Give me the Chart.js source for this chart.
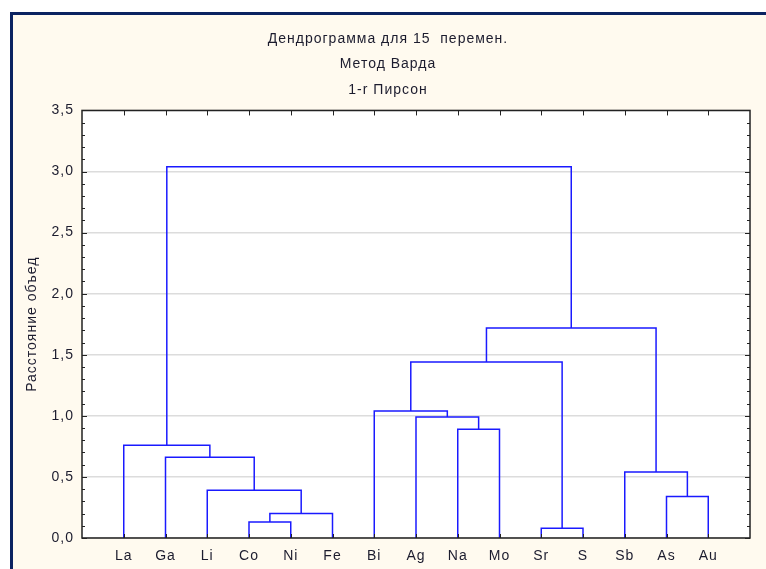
<!DOCTYPE html>
<html>
<head>
<meta charset="utf-8">
<script src="https://cdn.jsdelivr.net/npm/chart.js@4"></script>
<style>
    html, body { margin: 0; padding: 0; background: #ffffff; }
    .frame {
        position: absolute; left: 10px; top: 12px; width: 760px; height: 560px;
        background: #fffaef; border-left: 3px solid #0b2361; border-top: 3px solid #0b2361;
    }
    #chart { position: absolute; left: 0; top: 0; }
</style>
</head>
<body>
<div class="frame"></div>
<canvas id="chart" width="766" height="569"></canvas>
<script>
/* ====================================
   Dendrogram data (Ward method, 1-r Pearson)
   ==================================== */

const titleLines = ['Дендрограмма для 15  перемен.', 'Метод Варда', '1-r Пирсон'];
const yAxisTitle = 'Расстояние объед';

// leaves in drawing order (ids 0..14)
const leaves = ['La', 'Ga', 'Li', 'Co', 'Ni', 'Fe', 'Bi', 'Ag', 'Na', 'Mo', 'Sr', 'S', 'Sb', 'As', 'Au'];

// each merge creates node id 15, 16, ... joining mergeLeft[i] and mergeRight[i]
const mergeLeft   = [3, 15, 2, 1, 0, 10, 8, 7, 6, 23, 13, 12, 24, 19];
const mergeRight  = [4, 5, 16, 17, 18, 11, 9, 21, 22, 20, 14, 25, 26, 27];
const mergeHeight = [0.13, 0.20, 0.39, 0.66, 0.76, 0.08, 0.89, 0.99, 1.04, 1.44, 0.34, 0.54, 1.72, 3.04];

const yTicks = [0, 0.5, 1, 1.5, 2, 2.5, 3, 3.5];

/**
 * Build one U-shaped link per merge.
 * Leaf i sits at x = i + 1, a node sits midway between its children.
 */
function buildLinks() {
    const pos = leaves.map((_, i) => i + 1);
    const height = leaves.map(() => 0);
    const links = [];
    mergeLeft.forEach((a, i) => {
        const b = mergeRight[i];
        const h = mergeHeight[i];
        links.push([
            { x: pos[a], y: height[a] },
            { x: pos[a], y: h },
            { x: pos[b], y: h },
            { x: pos[b], y: height[b] }
        ]);
        pos.push((pos[a] + pos[b]) / 2);
        height.push(h);
    });
    return links;
}

const FONT = 'Liberation Sans, Arial, sans-serif';
const TEXT = '#1c1c2e';
const SPACING = '1px';

// white plot background, frame and inward ticks
const framePlugin = {
    id: 'frame',
    beforeUpdate(chart) {
        chart.ctx.letterSpacing = SPACING;
    },
    beforeDraw(chart) {
        const { ctx, chartArea: a } = chart;
        ctx.letterSpacing = SPACING;
        ctx.save();
        ctx.fillStyle = '#ffffff';
        ctx.fillRect(a.left, a.top, a.right - a.left, a.bottom - a.top);
        ctx.restore();
    },
    afterDraw(chart) {
        const { ctx, chartArea: a, scales } = chart;
        ctx.save();
        ctx.strokeStyle = '#222222';
        ctx.lineWidth = 1;
        ctx.beginPath();
        // minor / major ticks on left and right edges
        for (let k = 0; k <= 35; k++) {
            const y = Math.round(scales.y.getPixelForValue(k / 10)) + 0.5;
            const len = (k % 5 === 0) ? 5 : 3;
            ctx.moveTo(a.left, y); ctx.lineTo(a.left + len, y);
            ctx.moveTo(a.right, y); ctx.lineTo(a.right - len, y);
        }
        // leaf ticks on top and bottom edges
        leaves.forEach((_, i) => {
            const x = Math.round(scales.x.getPixelForValue(i + 1)) + 0.5;
            ctx.moveTo(x, a.top); ctx.lineTo(x, a.top + 5);
            ctx.moveTo(x, a.bottom); ctx.lineTo(x, a.bottom - 4);
        });
        ctx.stroke();
        ctx.lineWidth = 1.5;
        ctx.strokeRect(a.left, a.top, a.right - a.left, a.bottom - a.top);
        ctx.restore();
    }
};

const links = buildLinks();

new Chart(document.getElementById('chart'), {
    type: 'line',
    data: {
        datasets: links.map(pts => ({
            data: pts,
            borderColor: '#1a1aff',
            borderWidth: 1.5,
            pointRadius: 0,
            tension: 0,
            fill: false
        }))
    },
    options: {
        responsive: false,
        animation: false,
        events: [],
        layout: { padding: { left: 26, right: 16, top: 0, bottom: 0 } },
        plugins: {
            legend: { display: false },
            tooltip: { enabled: false },
            title: {
                display: true,
                text: titleLines,
                color: TEXT,
                font: { family: FONT, size: 14, weight: 'normal', lineHeight: 1.82 },
                padding: { top: 26, bottom: 8 }
            }
        },
        scales: {
            x: {
                type: 'linear',
                min: 0,
                max: 16,
                afterFit: s => { s.height = 31; },
                afterBuildTicks: s => { s.ticks = leaves.map((_, i) => ({ value: i + 1 })); },
                grid: { display: false, drawTicks: false },
                border: { display: false },
                ticks: {
                    autoSkip: false,
                    maxRotation: 0,
                    padding: 10,
                    color: TEXT,
                    font: { family: FONT, size: 14 },
                    callback: v => leaves[v - 1] || ''
                }
            },
            y: {
                type: 'linear',
                min: 0,
                max: 3.5,
                afterFit: s => { s.width = 56; },
                afterBuildTicks: s => { s.ticks = yTicks.map(v => ({ value: v })); },
                grid: { color: '#dcdcdc', lineWidth: 1.5, drawTicks: false },
                border: { display: false },
                ticks: {
                    padding: 8,
                    color: TEXT,
                    font: { family: FONT, size: 14 },
                    callback: v => v.toFixed(1).replace('.', ',')
                },
                title: {
                    display: true,
                    text: yAxisTitle,
                    color: TEXT,
                    font: { family: FONT, size: 14 },
                    padding: { top: -2, bottom: 0 }
                }
            }
        }
    },
    plugins: [framePlugin]
});
</script>
</body>
</html>
